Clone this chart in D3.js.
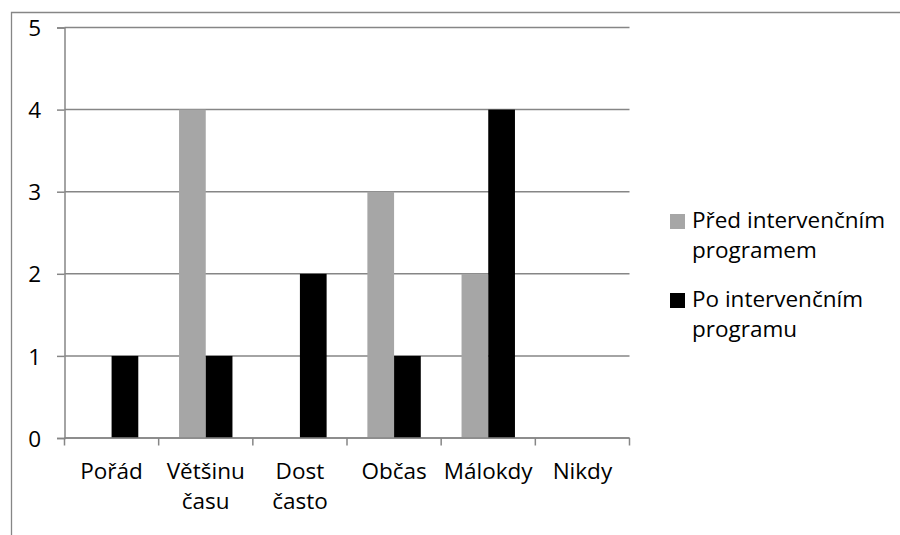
<!DOCTYPE html>
<html>
<head>
<meta charset="utf-8">
<script src="https://cdn.jsdelivr.net/npm/d3@7"></script>
<style>
  html, body { margin: 0; padding: 0; background: #fff; }
  svg { display: block; }
  text { font-family: "Open Sans", "Noto Sans", sans-serif; fill: #000; }
</style>
</head>
<body>
<svg id="chart" width="900" height="535"></svg>
<script>
// Frequency answers, before and after the intervention programme
const categories = ["Pořád", "Většinu času", "Dost často", "Občas", "Málokdy", "Nikdy"];
const seriesNames = ["Před intervenčním programem", "Po intervenčním programu"];
const beforeValues = [0, 4, 0, 3, 2, 0];
const afterValues = [1, 1, 2, 1, 4, 0];
const yTicks = [0, 1, 2, 3, 4, 5];
const legendLines = [["Před intervenčním", "programem"], ["Po intervenčním", "programu"]];

const colors = ["#a6a6a6", "#000000"];
const gridColor = "#868686";
const fontSize = 22.5;

const svg = d3.select("#chart");

// outer frame of the chart area
svg.append("path")
  .attr("d", "M11.5,540 V12.5 H905")
  .attr("fill", "none")
  .attr("stroke", gridColor)
  .attr("stroke-width", 1.3);

const plot = { left: 64.5, right: 629.5, top: 27.5, bottom: 438 };

const x0 = d3.scaleBand()
  .domain(categories)
  .range([plot.left, plot.right])
  .paddingInner(0)
  .paddingOuter(0);

const x1 = d3.scaleBand()
  .domain(seriesNames)
  .range([0, x0.bandwidth()])
  .paddingInner(0)
  .paddingOuter(0.763);

const y = d3.scaleLinear()
  .domain([0, 5])
  .range([plot.bottom, plot.top]);

// horizontal gridlines
svg.append("g")
  .selectAll("line")
  .data(yTicks)
  .join("line")
  .attr("x1", plot.left)
  .attr("x2", plot.right)
  .attr("y1", d => y(d))
  .attr("y2", d => y(d))
  .attr("stroke", gridColor)
  .attr("stroke-width", 1.5);

// value axis
const yAxis = svg.append("g")
  .attr("transform", `translate(${plot.left},0)`)
  .call(d3.axisLeft(y).tickValues(yTicks).tickSize(7.5).tickPadding(16).tickFormat(d3.format("d")));
yAxis.attr("font-family", null).attr("font-size", fontSize);
yAxis.select(".domain").attr("stroke", gridColor).attr("stroke-width", 1.5);
yAxis.selectAll(".tick line").attr("stroke", gridColor).attr("stroke-width", 1.5);
yAxis.selectAll(".tick text")
  .attr("font-size", fontSize)
  .attr("dy", "0.36em");

// bars
const rows = categories.map((c, i) => ({ cat: c, values: [beforeValues[i], afterValues[i]] }));
svg.append("g")
  .selectAll("g")
  .data(rows)
  .join("g")
  .attr("transform", d => `translate(${x0(d.cat)},0)`)
  .selectAll("rect")
  .data(d => d.values.map((v, k) => ({ name: seriesNames[k], v, k })))
  .join("rect")
  .attr("x", d => x1(d.name))
  .attr("width", x1.bandwidth())
  .attr("y", d => y(d.v))
  .attr("height", d => y(0) - y(d.v))
  .attr("fill", d => colors[d.k]);

// category axis line and boundary ticks
const boundaries = categories.map(c => x0(c)).concat([x0(categories[categories.length - 1]) + x0.bandwidth()]);
svg.append("line")
  .attr("x1", plot.left).attr("x2", plot.right)
  .attr("y1", y(0)).attr("y2", y(0))
  .attr("stroke", gridColor).attr("stroke-width", 1.5);
svg.append("g")
  .selectAll("line")
  .data(boundaries)
  .join("line")
  .attr("x1", d => d).attr("x2", d => d)
  .attr("y1", y(0)).attr("y2", y(0) + 7.5)
  .attr("stroke", gridColor).attr("stroke-width", 1.5);

// category labels, one word per line
svg.append("g")
  .selectAll("text")
  .data(categories)
  .join("text")
  .attr("x", d => x0(d) + x0.bandwidth() / 2)
  .attr("y", 479)
  .attr("text-anchor", "middle")
  .attr("font-size", fontSize)
  .selectAll("tspan")
  .data(d => d.split(" "))
  .join("tspan")
  .attr("x", function () { return d3.select(this.parentNode).attr("x"); })
  .attr("dy", (d, i) => i === 0 ? 0 : 30)
  .text(d => d);

// legend
const legend = svg.append("g");
const legendRows = [214, 293];
legendLines.forEach((lines, k) => {
  legend.append("rect")
    .attr("x", 670).attr("y", legendRows[k])
    .attr("width", 15).attr("height", 15)
    .attr("fill", colors[k]);
  const t = legend.append("text")
    .attr("x", 692).attr("y", legendRows[k] + 14)
    .attr("font-size", fontSize);
  t.selectAll("tspan")
    .data(lines)
    .join("tspan")
    .attr("x", 692)
    .attr("dy", (d, i) => i === 0 ? 0 : 30)
    .text(d => d);
});
</script>
</body>
</html>
